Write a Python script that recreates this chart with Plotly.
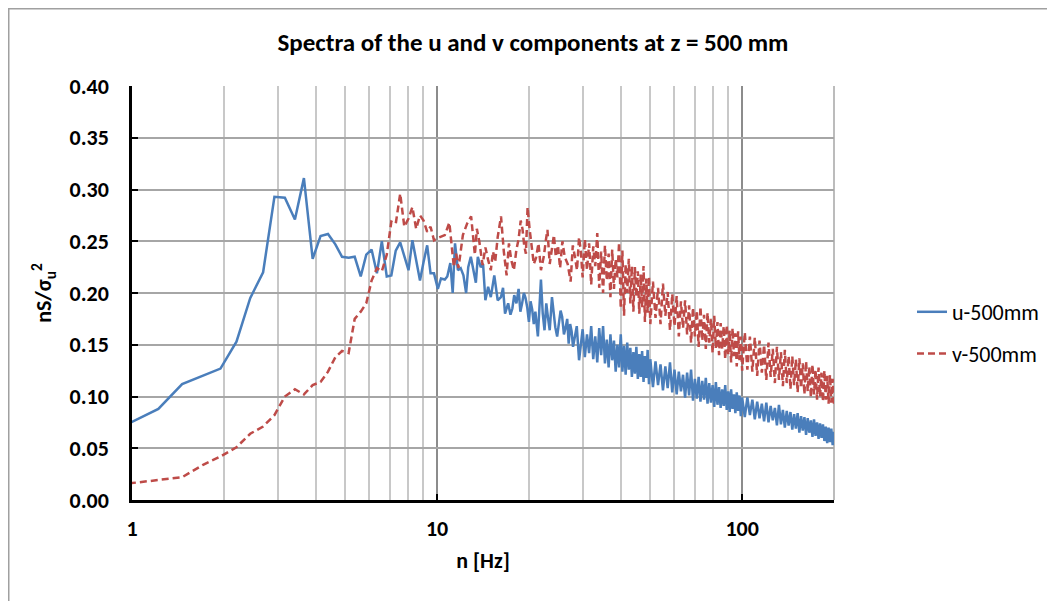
import math
import plotly.graph_objects as go

# ---------------- data ----------------
# u-500mm : low/mid-frequency part (read point by point)
u_freq_lo = [0.977, 1.22, 1.46, 1.71, 1.95, 2.20, 2.44, 2.69, 2.93, 3.17, 3.42, 3.66, 3.91, 4.15,
             4.39, 4.64, 4.88, 5.13, 5.37, 5.62, 5.86, 6.10, 6.35, 6.59, 6.84, 7.08, 7.32, 7.57,
             7.81, 8.06, 8.30, 8.54, 8.79, 9.03, 9.28, 9.52, 9.77, 10.06, 10.3, 10.6, 10.8, 11.05,
             11.25, 11.45, 11.7, 11.95, 12.2, 12.45, 12.65, 12.9, 13.2, 13.4, 13.6, 13.9, 14.15, 14.4, 14.7,
             15.0, 15.4, 15.8, 16.2, 16.45, 16.7, 17.1, 17.4, 17.65, 17.9, 18.2, 18.5, 18.75, 19.0, 19.25,
             19.5, 19.75, 20.0, 20.25, 20.5, 20.75, 21.0, 21.4, 21.9, 22.2, 22.5, 22.8, 23.1, 23.4, 23.8,
             24.1, 24.4, 24.75, 25.1, 25.4, 25.7, 26.05, 26.4, 26.7, 27.0, 27.3, 27.6, 27.9, 28.3, 28.7,
             29.2, 29.6]
u_vals_lo = [0.074, 0.088, 0.112, 0.120, 0.127, 0.153, 0.195, 0.220, 0.293, 0.292, 0.271, 0.311, 0.233, 0.255,
             0.257, 0.247, 0.235, 0.234, 0.235, 0.216, 0.237, 0.242, 0.219, 0.250, 0.216, 0.217, 0.241, 0.249,
             0.235, 0.222, 0.251, 0.230, 0.212, 0.230, 0.246, 0.219, 0.219, 0.204, 0.214, 0.213, 0.216, 0.229,
             0.200, 0.248, 0.222, 0.224, 0.217, 0.200, 0.225, 0.235, 0.219, 0.210, 0.235, 0.225, 0.228, 0.193, 0.206,
             0.196, 0.217, 0.193, 0.196, 0.205, 0.180, 0.190, 0.179, 0.185, 0.198, 0.190, 0.204, 0.182, 0.190, 0.200,
             0.195, 0.186, 0.172, 0.192, 0.184, 0.170, 0.182, 0.158, 0.213, 0.180, 0.164, 0.190, 0.176, 0.164, 0.196,
             0.180, 0.167, 0.158, 0.171, 0.183, 0.177, 0.160, 0.167, 0.175, 0.151, 0.170, 0.163, 0.148, 0.158, 0.168,
             0.135, 0.150]

# v-500mm : low/mid-frequency part
v_freq_lo = [0.977, 1.22, 1.46, 1.71, 1.95, 2.20, 2.44, 2.69, 2.93, 3.17, 3.42, 3.66, 3.91, 4.15,
             4.39, 4.64, 4.88, 5.13, 5.37, 5.62, 5.86, 6.10, 6.35, 6.59, 6.84, 7.08, 7.32, 7.57,
             7.81, 8.06, 8.30, 8.54, 8.79, 9.03, 9.28, 9.52, 9.77, 10.01, 10.25, 10.6, 10.97, 11.35, 11.55,
             11.75, 12.15, 12.54, 12.93, 13.3, 13.5, 13.75, 14.1, 14.4, 14.7, 15.0, 15.25, 15.5, 15.8, 16.2,
             16.55, 16.9, 17.2, 17.5, 17.85, 18.2, 18.5, 18.8, 19.05, 19.3, 19.55, 19.8, 20.1, 20.4, 20.75,
             21.1, 21.5, 21.9, 22.4, 22.7, 23.0, 23.4, 23.8, 24.15, 24.5, 24.9, 25.3, 25.75, 26.2, 26.8,
             27.4, 27.85, 28.3, 28.75, 29.2, 29.6]
v_vals_lo = [0.016, 0.019, 0.022, 0.034, 0.042, 0.051, 0.064, 0.071, 0.082, 0.100, 0.107, 0.102, 0.111, 0.114,
             0.124, 0.138, 0.144, 0.142, 0.175, 0.182, 0.190, 0.212, 0.224, 0.221, 0.237, 0.269, 0.267, 0.296,
             0.264, 0.272, 0.283, 0.262, 0.275, 0.270, 0.259, 0.264, 0.251, 0.253, 0.254, 0.256, 0.268, 0.225, 0.238,
             0.224, 0.256, 0.267, 0.274, 0.237, 0.262, 0.250, 0.227, 0.244, 0.232, 0.222, 0.240, 0.230, 0.254, 0.274,
             0.240, 0.217, 0.248, 0.232, 0.222, 0.242, 0.252, 0.270, 0.262, 0.246, 0.238, 0.283, 0.262, 0.245, 0.228,
             0.234, 0.248, 0.222, 0.236, 0.250, 0.261, 0.228, 0.242, 0.256, 0.235, 0.246, 0.224, 0.250, 0.235, 0.228,
             0.211, 0.246, 0.235, 0.222, 0.254, 0.240]

# high-frequency part (shared frequency list)
freq_hi = [30.0, 30.5, 31.0, 31.5, 32.0, 32.5, 33.0, 33.5, 34.0, 34.5, 35.0, 35.5, 36.0, 36.5, 37.0, 37.5,
           38.0, 38.5, 39.0, 39.5, 40.0, 40.5, 41.0, 41.5, 42.0, 42.5, 43.0, 43.5, 44.0, 44.5, 45.0, 45.5,
           46.0, 46.5, 47.0, 47.5, 48.0, 48.5, 49.0, 49.5, 50.0,
           51, 52, 53, 54, 55, 56, 57, 58, 59, 60, 61, 62, 63, 64, 65, 66, 67, 68, 69, 70,
           71, 72, 73, 74, 75, 76, 77, 78, 79, 80, 81, 82, 83, 84, 85, 86, 87, 88, 89, 90,
           91, 92, 93, 94, 95, 96, 97, 98, 99, 100,
           102, 104, 106, 108, 110, 112, 114, 116, 118, 120, 122, 124, 126, 128, 130, 132, 134, 136, 138, 140,
           142, 144, 146, 148, 150, 152, 154, 156, 158, 160, 162, 164, 166, 168, 170, 172, 174, 176, 178, 180,
           182, 184, 186, 188, 190, 192, 194, 196, 198, 200]

u_vals_hi = [0.165, 0.138, 0.160, 0.142, 0.168, 0.136, 0.158, 0.133, 0.166, 0.140, 0.168, 0.132, 0.155, 0.128, 0.160, 0.135,
             0.154, 0.124, 0.150, 0.128, 0.160, 0.124, 0.149, 0.121, 0.152, 0.126, 0.147, 0.119, 0.143, 0.122, 0.148, 0.117,
             0.141, 0.119, 0.144, 0.114, 0.139, 0.118, 0.145, 0.112, 0.136,
             0.109, 0.134, 0.111, 0.131, 0.106, 0.129, 0.108, 0.133, 0.104, 0.126, 0.102, 0.124, 0.105, 0.121, 0.099, 0.123,
             0.101, 0.126, 0.096, 0.117, 0.098, 0.119, 0.095, 0.115, 0.097, 0.118, 0.093, 0.113, 0.094, 0.111,
             0.090, 0.114, 0.092, 0.109, 0.089, 0.107, 0.091, 0.111, 0.087, 0.105,
             0.085, 0.107, 0.088, 0.102, 0.084, 0.104, 0.086, 0.101, 0.081, 0.099,
             0.080, 0.099, 0.082, 0.097, 0.078, 0.095, 0.079, 0.093, 0.076, 0.094, 0.075, 0.091, 0.077, 0.089, 0.072,
             0.092, 0.073, 0.087, 0.070, 0.086, 0.072, 0.085, 0.068, 0.083, 0.069, 0.084, 0.065, 0.081, 0.067, 0.080,
             0.063, 0.079, 0.065, 0.077, 0.061, 0.078, 0.062, 0.075, 0.059, 0.074, 0.060, 0.073, 0.057, 0.071, 0.055,
             0.070, 0.056, 0.069, 0.053, 0.066]

v_vals_hi = [0.215, 0.252, 0.222, 0.248, 0.208, 0.245, 0.226, 0.258, 0.205, 0.240, 0.200, 0.246, 0.212, 0.238, 0.196, 0.242,
             0.204, 0.233, 0.215, 0.249, 0.185, 0.241, 0.178, 0.228, 0.200, 0.233, 0.190, 0.226, 0.182, 0.225, 0.196, 0.221,
             0.180, 0.218, 0.186, 0.226, 0.172, 0.214, 0.181, 0.216, 0.170,
             0.211, 0.176, 0.205, 0.170, 0.209, 0.178, 0.201, 0.164, 0.199, 0.168, 0.197, 0.158, 0.192, 0.166, 0.193, 0.160,
             0.188, 0.152, 0.186, 0.158, 0.183, 0.148, 0.187, 0.154, 0.179, 0.146, 0.181, 0.152, 0.175, 0.142,
             0.178, 0.147, 0.172, 0.140, 0.171, 0.146, 0.168, 0.136, 0.169, 0.141,
             0.164, 0.133, 0.166, 0.139, 0.161, 0.129, 0.163, 0.135, 0.158, 0.125,
             0.162, 0.126, 0.158, 0.124, 0.157, 0.120, 0.154, 0.123, 0.150, 0.116, 0.152, 0.119, 0.146, 0.113, 0.148,
             0.116, 0.143, 0.110, 0.145, 0.113, 0.139, 0.107, 0.139, 0.111, 0.136, 0.104, 0.137, 0.108, 0.132, 0.102,
             0.134, 0.105, 0.129, 0.099, 0.131, 0.102, 0.126, 0.097, 0.128, 0.100, 0.123, 0.095, 0.125, 0.097, 0.120,
             0.093, 0.121, 0.094, 0.117, 0.092]

series_names = ["u-500mm", "v-500mm"]
x_ticks = [1, 10, 100]
x_ticktext = ["1", "10", "100"]

# ---------------- figure ----------------
BLUE = "#4a7ebb"
RED = "#be4b48"
FONT = "Carlito, Lato, sans-serif"

# page is shown with an 8px body margin: figure coords = page coords - 8
L, T, R, B = 124, 78, 229, 109
PW, PH = 1055 - L - R, 601 - T - B

fig = go.Figure()
fig.add_trace(go.Scatter(
    x=u_freq_lo + freq_hi, y=u_vals_lo + u_vals_hi, name=series_names[0], mode="lines",
    line=dict(color=BLUE, width=2.5), legendgroup="u"))
fig.add_trace(go.Scatter(
    x=v_freq_lo + freq_hi, y=v_vals_lo + v_vals_hi, name=series_names[1], mode="lines",
    line=dict(color=RED, width=2.5, dash="7px,4px"), legendgroup="v"))

fig.update_layout(
    width=1055, height=601,
    margin=dict(l=L, r=R, t=T, b=B),
    paper_bgcolor="white", plot_bgcolor="white",
    font=dict(family=FONT, color="black"),
    title=dict(text="<b>Spectra of the u and v components at z = 500 mm</b>",
               font=dict(size=25, family=FONT, color="black"),
               x=525 / 1055, xref="container", xanchor="center",
               y=1 - 34 / 601, yref="container", yanchor="middle"),
    legend=dict(x=(904 - L) / PW, y=(601 - B - 325) / PH, xanchor="left", yanchor="middle",
                font=dict(size=22, family=FONT, color="black"),
                traceorder="grouped", tracegroupgap=10, bgcolor="rgba(0,0,0,0)"),
    showlegend=True,
)

fig.update_xaxes(
    type="log", range=[0, math.log10(200)],
    tickvals=x_ticks, ticktext=x_ticktext,
    tickfont=dict(size=22, family=FONT, color="black", weight="bold"),
    ticks="inside", ticklen=6, tickwidth=2, tickcolor="black",
    ticklabelstandoff=7,
    showline=True, linecolor="black", linewidth=2.5,
    showgrid=True, gridcolor="#8c8c8c", gridwidth=1.5,
    minor=dict(dtick="D1", showgrid=True, gridcolor="#c8c8c8", gridwidth=1.5, ticks=""),
    zeroline=False,
    title=dict(text="<b>n [Hz]</b>", font=dict(size=22, family=FONT, color="black"), standoff=12),
)

fig.update_yaxes(
    range=[0, 0.4], dtick=0.05, tickformat=".2f",
    tickfont=dict(size=22, family=FONT, color="black", weight="bold"),
    ticks="inside", ticklen=6, tickwidth=2, tickcolor="black",
    ticklabelstandoff=16,
    showline=True, linecolor="black", linewidth=2.5,
    showgrid=True, gridcolor="#a6a6a6", gridwidth=1.5,
    zeroline=False,
    title=dict(text="<b>nS/σ<sub>u</sub><sup>2</sup></b>", font=dict(size=22, family=FONT, color="black"),
               standoff=12),
)

# right edge of plot area (Excel plot-area border) and outer chart border at the figure edge
fig.add_shape(type="line", xref="paper", yref="paper", x0=1, x1=1, y0=0, y1=1,
              line=dict(color="#a6a6a6", width=1.5), layer="below")
fig.add_shape(type="line", xref="paper", yref="paper", x0=-L / PW, x1=(1055 - L) / PW,
              y0=(601 - B - 0.75) / PH, y1=(601 - B - 0.75) / PH, line=dict(color="#a0a0a0", width=1.5))
fig.add_shape(type="line", xref="paper", yref="paper", x0=(0.75 - L) / PW, x1=(0.75 - L) / PW,
              y0=(601 - B) / PH, y1=-B / PH, line=dict(color="#a0a0a0", width=1.5))

fig.write_html("out.html")
